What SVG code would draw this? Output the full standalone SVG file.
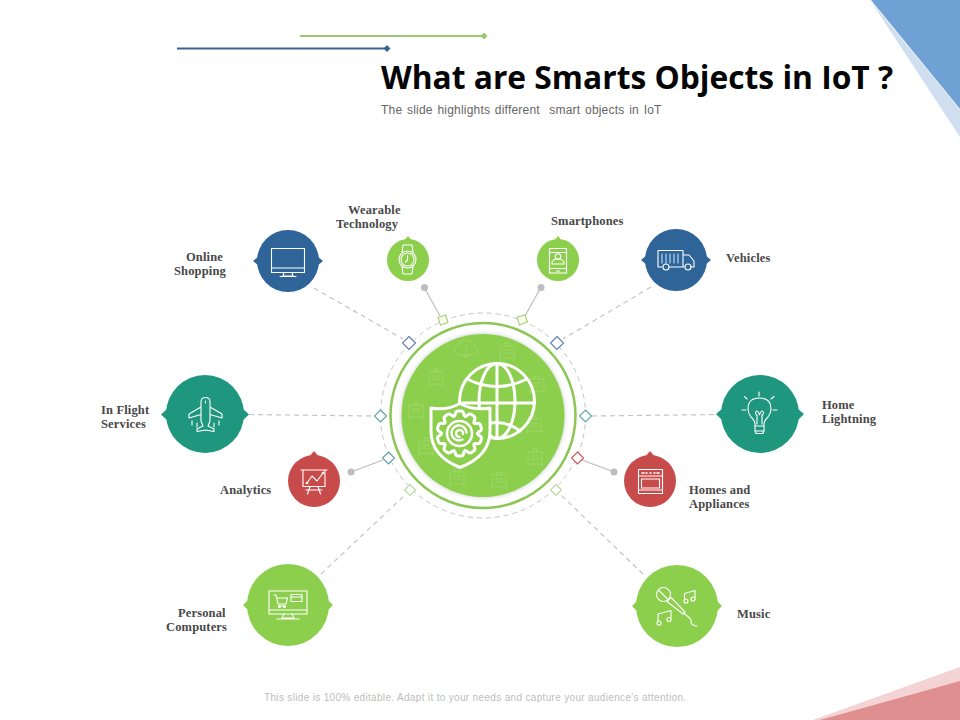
<svg xmlns="http://www.w3.org/2000/svg" xmlns:xlink="http://www.w3.org/1999/xlink" width="960" height="720" viewBox="0 0 960 720">
<style>
.lb{font-family:"Liberation Serif","DejaVu Serif",serif;font-weight:700;font-size:12.5px;fill:#484848;letter-spacing:.15px}
.ic{fill:none;stroke:#fff;stroke-width:1.1;stroke-linecap:round;stroke-linejoin:round}
.dash{fill:none;stroke:#c4c4c8;stroke-width:1.2;stroke-dasharray:5 4}
.solid{fill:none;stroke:#bdbdbd;stroke-width:1.2}
.dot{fill:#bdbdbd}
.dm{fill:#fff;stroke-width:1.1}
.blue{fill:#2f6499}.teal{fill:#1f977f}.red{fill:#c84b4b}.green{fill:#8ccf4d}
.faint{fill:none;stroke:#fff;stroke-opacity:.16;stroke-width:1}
.main{fill:none;stroke:#fff;stroke-width:3;stroke-linecap:round;stroke-linejoin:round}
</style>
<defs>
<path id="tooth" d="M-5.56 -17.12L-4.5 -18.5Q-4 -22.5 -1.5 -22.5L1.5 -22.5Q4 -22.5 4.5 -18.5L5.56 -17.12"/>
<g id="fi"><rect x="-7" y="-6" width="14" height="12"/><path d="M-4 -2H4M-4 1H4M-2 -6V-9H2V-6M-7 6V9M7 6V9"/></g>
<filter id="sh" x="-10%" y="-10%" width="120%" height="120%"><feDropShadow dx="0" dy="0" stdDeviation="2" flood-color="#555" flood-opacity=".35"/></filter>
</defs>
<rect width="960" height="720" fill="#fff"/>
<g id="corners">
<polygon points="870,0 960,110 960,137" fill="#cfdff0"/>
<polygon points="871,0 960,0 960,109" fill="#70a1d4"/>
<polygon points="813,720 960,667 960,720" fill="#f3d3d3"/>
<polygon points="820,720 960,681 960,720" fill="#e08f90"/>
</g>
<g id="title-rules">
<path d="M300 36H483" stroke="#9cc66f" stroke-width="2"/><path d="M484 32.500L487.500 36L484 39.500L480.500 36Z" fill="#9cc66f"/>
<path d="M177 48.500H387" stroke="#3a6591" stroke-width="2"/><path d="M387 45L390.500 48.500L387 52L383.500 48.500Z" fill="#3a6591"/>
</g>
<text id="title" x="381" y="89" font-family="'Open Sans','Noto Sans',sans-serif" font-weight="700" font-size="31.750" fill="#050505">What are Smarts Objects in IoT ?</text>
<text id="subtitle" x="381" y="114" font-family="'Liberation Sans',Arial,sans-serif" font-size="12" fill="#666" letter-spacing=".2" word-spacing="1.2" xml:space="preserve">The slide highlights different  smart objects in IoT</text>
<text id="footer" x="264" y="701" font-family="'Liberation Sans',Arial,sans-serif" font-size="10" fill="#bdbdbd" letter-spacing=".33">This slide is 100% editable. Adapt it to your needs and capture your audience's attention.</text>

<g id="connectors">
<path class="dash" d="M314 288L403 339"/>
<path class="dash" d="M651 287L563 339"/>
<path class="dash" d="M249 414.500L374 416"/>
<path class="dash" d="M592 416L720 414.500"/>
<path class="dash" d="M321 574L405 495"/>
<path class="dash" d="M643 574L561 495"/>
<path class="solid" d="M424 287L440 316"/><circle class="dot" cx="424.500" cy="287.500" r="3.500"/>
<path class="solid" d="M541 287L525 316"/><circle class="dot" cx="541" cy="287.500" r="3.500"/>
<path class="solid" d="M351 472L383 460"/><circle class="dot" cx="351" cy="472" r="3.500"/>
<path class="solid" d="M614 472L582 460"/><circle class="dot" cx="614" cy="472" r="3.500"/>
</g>

<g id="hub">
<circle cx="483" cy="415.500" r="102.500" fill="none" stroke="#c4c4cc" stroke-width="1" stroke-dasharray="5 4"/>
<circle cx="483" cy="415.500" r="92.500" fill="#fff" stroke="#8cc653" stroke-width="2.500"/>
<circle cx="483" cy="415.500" r="81.500" fill="#8ccf4d" filter="url(#sh)"/>
<g class="faint">
<path d="M458 355a6 6 0 0 1 1-11a8 8 0 0 1 14 0a6 6 0 0 1 1 11zM466 346V358M462 354l4 4l4-4"/>
<use xlink:href="#fi" x="507" y="352"/><use xlink:href="#fi" x="436" y="378"/><use xlink:href="#fi" x="537" y="385"/>
<use xlink:href="#fi" x="416" y="411"/><use xlink:href="#fi" x="534" y="425"/><use xlink:href="#fi" x="426" y="447"/>
<use xlink:href="#fi" x="535" y="458"/><use xlink:href="#fi" x="499" y="481"/><use xlink:href="#fi" x="457" y="478"/>
</g>
<g class="main">
<circle cx="497" cy="401" r="37.500"/>
<path d="M497 363.500V438.500M459.500 403H534.500"/>
<ellipse cx="497" cy="401" rx="18" ry="37.500"/>
<path d="M467 379Q497 394 527 379M474 431Q497 414 520 431"/>
<path d="M460 403.500Q474 411 490 408V431Q490 456 460 467.500Q431 456 431 431V408Q446 411 460 403.500Z" fill="#8ccf4d"/>
<g transform="translate(459.500 433.500)">
<use xlink:href="#tooth"/><use xlink:href="#tooth" transform="rotate(36)"/><use xlink:href="#tooth" transform="rotate(72)"/><use xlink:href="#tooth" transform="rotate(108)"/><use xlink:href="#tooth" transform="rotate(144)"/><use xlink:href="#tooth" transform="rotate(180)"/><use xlink:href="#tooth" transform="rotate(216)"/><use xlink:href="#tooth" transform="rotate(252)"/><use xlink:href="#tooth" transform="rotate(288)"/><use xlink:href="#tooth" transform="rotate(324)"/>
<circle r="12.500" stroke-width="2.600"/>
<path d="M7 -1A7.500 7.500 0 1 0 3 6M3.500 0.500A3.500 3.500 0 1 0 0 3.500" stroke-width="2.400"/>
</g>
</g>
<g class="dm">
<path d="M409 336.500L415.500 343L409 349.500L402.500 343Z" stroke="#5f7fae"/>
<path d="M557 336.500L563.500 343L557 349.500L550.500 343Z" stroke="#5f7fae"/>
<path d="M438 317.500L445.500 315L448 322.500L440.500 325Z" stroke="#a5cf75" fill="#fbfdf2"/>
<path d="M517 317L525 315L527.500 322L519.500 325Z" stroke="#a5cf75" fill="#fbfdf2"/>
<path d="M380.500 410L386.500 416L380.500 422L374.500 416Z" stroke="#5f9ea6"/>
<path d="M585.500 410L591.500 416L585.500 422L579.500 416Z" stroke="#5fa8a0"/>
<path d="M388.500 452L394.500 458L388.500 464L382.500 458Z" stroke="#5f9ea6"/>
<path d="M577.500 452L583.500 458L577.500 464L571.500 458Z" stroke="#c8585a"/>
<path d="M410 484.500L415.500 490L410 495.500L404.500 490Z" stroke="#b8d8a0"/>
<path d="M556 484.500L561.500 490L556 495.500L550.500 490Z" stroke="#b8d8a0"/>
</g>
</g>

<g id="node-online-shopping">
<path class="blue" d="M253 261L259 256V266ZM323 261L317 256V266Z"/><circle class="blue" cx="288" cy="261" r="31"/>
<g class="ic"><rect x="271.500" y="248.500" width="33" height="24"/><path d="M271.500 268H304.500M284 272.500L283 276H293L292 272.500M280 276.500H296"/></g>
<text class="lb" x="186" y="261">Online</text><text class="lb" x="174" y="275">Shopping</text>
</g>
<g id="node-wearable-technology">
<path class="green" d="M408 236L412 241H404Z"/><circle class="green" cx="408" cy="260" r="21"/>
<g class="ic"><circle cx="407.500" cy="259.500" r="8.500"/><circle cx="407.500" cy="259.500" r="6.500"/><path d="M402 252.500L403 245H412L413 252.500M402 266.500L403 274H412L413 266.500M407.500 255.500V260L405.500 262"/></g>
<text class="lb" x="348" y="214">Wearable</text><text class="lb" x="336" y="228">Technology</text>
</g>
<g id="node-smartphones">
<path class="green" d="M558 236L562 241H554Z"/><circle class="green" cx="558" cy="260" r="21"/>
<g class="ic"><rect x="549.500" y="248.500" width="17" height="24.500"/><path d="M549.500 252.500H566.500M549.500 268.500H566.500M552 264V262.500Q553 259 558 259Q563 259 564 262.500V264H552"/><circle cx="558" cy="256.500" r="2.800"/><path d="M556.500 271H559.500"/></g>
<text class="lb" x="551" y="225">Smartphones</text>
</g>
<g id="node-vehicles">
<path class="blue" d="M641 260L647 255V265ZM711 260L705 255V265Z"/><circle class="blue" cx="676" cy="260" r="31"/>
<g class="ic"><path d="M662 267H658V250.500H683V267H669.500M683 255H689L694 261V267H691M683 267H684"/><circle cx="666" cy="267" r="3"/><circle cx="688" cy="267" r="3"/><path d="M662 254V263M666 254V263M670 254V263M674 254V263M678 254V263" stroke="#bfe0ff"/></g>
<text class="lb" x="726" y="262">Vehicles</text>
</g>
<g id="node-in-flight-services">
<path class="teal" d="M161 414.500L168 408V421ZM249 414.500L242 408V421Z"/><circle class="teal" cx="205" cy="414" r="39"/>
<g class="ic"><path d="M201 421V402Q201 397.500 205.500 397.500Q210 397.500 210 402V421L208 426L214 429V431.500L205.500 430L197 431.500V429L203 426ZM201 407L189 414V418L201 414.500M210 407L222 414V418L210 414.500M192 421V425M197 423V427M214 423V427M219 421V425M205.500 401V403"/></g>
<text class="lb" x="101" y="414">In Flight</text><text class="lb" x="101" y="428">Services</text>
</g>
<g id="node-home-lightning">
<path class="teal" d="M716 414L723 408V421ZM804 414L797 408V421Z"/><circle class="teal" cx="760" cy="414" r="39"/>
<g class="ic"><path d="M755 431V424Q755 421 751 417Q748 413 748 409Q748 398 759.500 398Q771 398 771 409Q771 413 768 417Q764 421 764 424V431ZM755 431L756 433.500H763L764 431M755 426H764M757 424V415M762 424V415M757 416Q754 412 757 411Q759 412 759.500 415M762 416Q765 412 762 411Q760 412 759.500 415M742 410H746M773 410H777M759 396V392M747 399L744.500 396.500M771 399L774 396.500"/></g>
<text class="lb" x="822" y="409">Home</text><text class="lb" x="822" y="423">Lightning</text>
</g>
<g id="node-analytics">
<path class="red" d="M314 451L319 457H309Z"/><circle class="red" cx="314" cy="481" r="26"/>
<g class="ic"><path d="M301 470H327M303 470V486.500H325V470M306 490H322M310 486.500L307.500 494M318 486.500L320.500 494"/><path d="M307 483L312 476L317 481L323 473"/><circle cx="307" cy="483" r=".8"/><circle cx="323" cy="473" r=".8"/></g>
<text class="lb" x="220" y="494">Analytics</text>
</g>
<g id="node-homes-and-appliances">
<path class="red" d="M650 451L655 457H645Z"/><circle class="red" cx="650" cy="481" r="26"/>
<g class="ic"><rect x="638.500" y="469.500" width="24" height="24"/><path d="M638.500 476H662.500M638.500 490H662.500"/><rect x="641.500" y="479" width="18" height="9"/><path d="M642 473H644M646 473H647M650 473H651M654 473H655M657 473H659" stroke-width="1.600"/></g>
<text class="lb" x="689" y="494">Homes and</text><text class="lb" x="689" y="508">Appliances</text>
</g>
<g id="node-personal-computers">
<path class="green" d="M243 605L250 598V612ZM333 605L326 598V612Z"/><circle class="green" cx="288" cy="605" r="41"/>
<g class="ic"><rect x="269" y="591" width="38" height="23"/><path d="M269 610H307M284 614L282 618H294L292 614M277 619H299"/><path d="M274 595H276L278 604H286L287.500 598H277M278.500 606H285"/><circle cx="279.500" cy="606.500" r="1"/><circle cx="284.500" cy="606.500" r="1"/><rect x="291" y="594.500" width="11" height="7"/><path d="M291 597H302"/></g>
<text class="lb" x="178" y="617">Personal</text><text class="lb" x="166" y="631">Computers</text>
</g>
<g id="node-music">
<path class="green" d="M632 606L639 599V613ZM722 606L715 599V613Z"/><circle class="green" cx="677" cy="606" r="41"/>
<g class="ic" stroke-width="1.400"><circle cx="663.500" cy="594.500" r="7"/><path d="M658.500 590L668 599.500M667 601.500L671 597.500L685 612L683 614ZM683.500 613L689 617.500Q692 620 691 623Q693 626 697 626"/><path d="M684.500 600V593.500L695 590.500V598"/><circle cx="686" cy="601" r="2"/><circle cx="693" cy="599" r="2"/><path d="M658 621V614L671 610.500V618"/><circle cx="659" cy="623" r="2"/><circle cx="669" cy="619.500" r="2"/></g>
<text class="lb" x="737" y="618">Music</text>
</g>
</svg>
